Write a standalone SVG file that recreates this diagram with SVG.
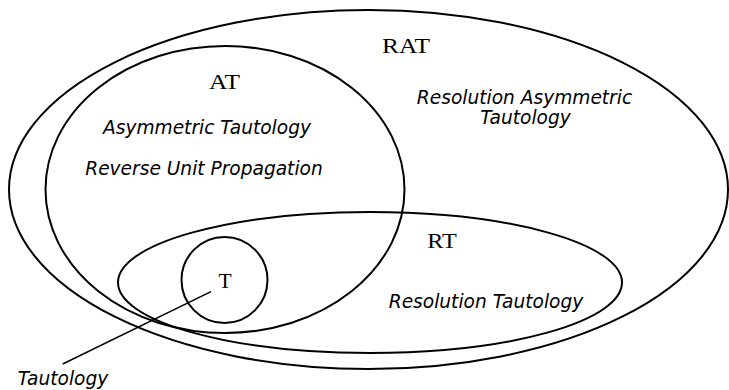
<svg xmlns="http://www.w3.org/2000/svg" width="729" height="390" viewBox="0 0 729 390">
<style>
.set{fill:none;stroke:#000;stroke-width:2}
.lbl{font-family:"Liberation Serif","DejaVu Serif",serif;font-size:21.5px;fill:#000;text-anchor:middle}
.desc{font-family:"DejaVu Sans","Liberation Sans",sans-serif;font-style:italic;font-size:18.6px;fill:#000;text-anchor:middle}
.conn{stroke:#000;stroke-width:1.5;fill:none}
</style>
<rect width="729" height="390" fill="#fff"/>
<g id="RAT">
<ellipse class="set" cx="368.5" cy="189.5" rx="359.5" ry="179.5"/>
<text class="lbl" x="406" y="52.5" textLength="48" lengthAdjust="spacingAndGlyphs">RAT</text>
<text class="desc" x="524.5" y="104">Resolution Asymmetric</text>
<text class="desc" x="525.5" y="123.5">Tautology</text>
</g>
<g id="AT">
<ellipse class="set" cx="225" cy="189.5" rx="179.5" ry="143.5"/>
<text class="lbl" x="224.5" y="89.3" textLength="31" lengthAdjust="spacingAndGlyphs">AT</text>
<text class="desc" x="207" y="134">Asymmetric Tautology</text>
<text class="desc" x="204" y="175">Reverse Unit Propagation</text>
</g>
<g id="RT">
<ellipse class="set" cx="370" cy="282.5" rx="252" ry="70.5"/>
<text class="lbl" x="442" y="248.3" textLength="29.5" lengthAdjust="spacingAndGlyphs">RT</text>
<text class="desc" x="486" y="308">Resolution Tautology</text>
</g>
<g id="T">
<circle class="set" cx="224.5" cy="280" r="43"/>
<text class="lbl" x="225" y="287.7">T</text>
</g>
<g id="Tautology">
<text class="desc" x="63" y="385">Tautology</text>
</g>
<g id="connectors">
<line class="conn" x1="211" y1="291.7" x2="62.7" y2="364"/>
</g>
</svg>
